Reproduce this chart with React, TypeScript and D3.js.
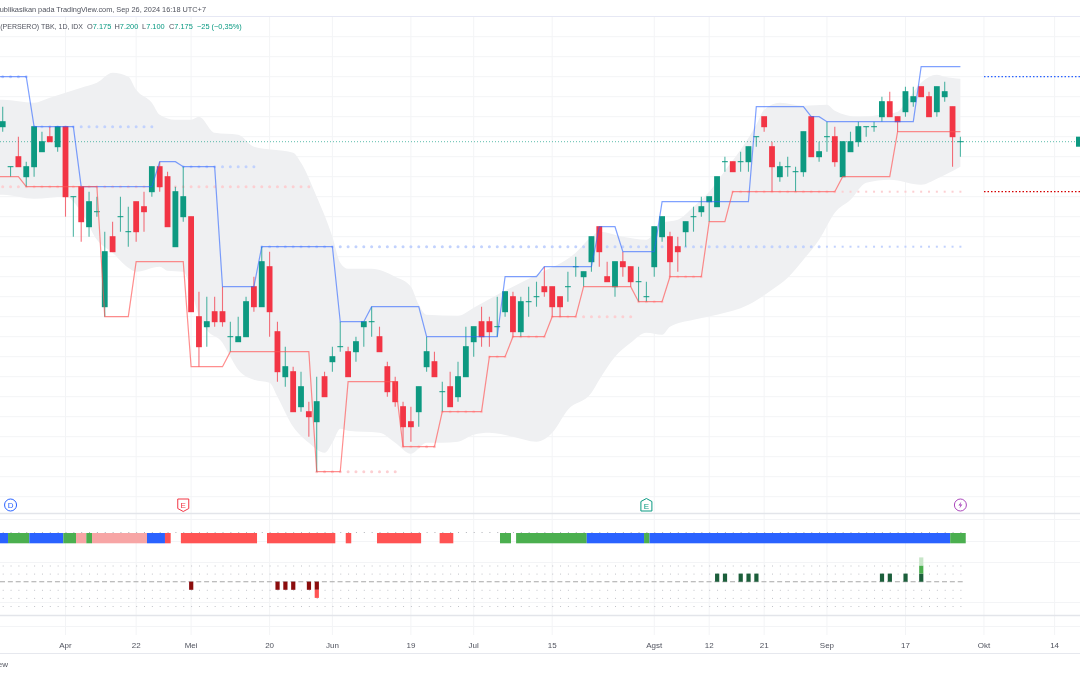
import React from 'react';
import * as d3 from 'd3';

const opens = [
  7250, 7050, 7100, 7000, 7050, 7125, 7200, 7150, 7250, 6900, 6950, 6750, 6825, 6350, 6700, 6800, 6725, 6875, 6850, 6925,
  7050, 7000, 6650, 6800, 6800, 6300, 6250, 6325, 6325, 6200, 6175, 6200, 6450, 6350, 6550, 6225, 6000, 6025, 5850, 5825,
  5775, 6000, 6075, 6150, 6125, 6125, 6250, 6275, 6200, 6050, 5975, 5850, 5775, 5825, 6050, 6075, 5925, 5950, 5900, 6000,
  6175, 6275, 6275, 6250, 6325, 6400, 6225, 6375, 6400, 6450, 6450, 6400, 6450, 6550, 6500, 6575, 6750, 6500, 6450, 6575,
  6550, 6475, 6400, 6550, 6700, 6700, 6650, 6725, 6800, 6825, 6875, 6850, 7075, 7075, 7075, 7075, 7200, 7300, 7150, 7000,
  7050, 7025, 7025, 7300, 7100, 7200, 7200, 7000, 7125, 7175, 7250, 7250, 7300, 7375, 7300, 7325, 7375, 7450, 7400, 7325,
  7400, 7350, 7175,
];
const highs = [
  7350, 7050, 7200, 7075, 7250, 7225, 7250, 7250, 7250, 6900, 6950, 6925, 6900, 6725, 6775, 6900, 6850, 6875, 6925, 7050,
  7075, 7025, 6950, 7050, 6800, 6425, 6400, 6400, 6450, 6275, 6300, 6400, 6500, 6650, 6625, 6275, 6150, 6050, 6025, 5875,
  6000, 6025, 6150, 6275, 6150, 6200, 6275, 6350, 6250, 6075, 6000, 5875, 5850, 5950, 6200, 6125, 5975, 6025, 6075, 6250,
  6250, 6350, 6300, 6400, 6425, 6425, 6400, 6450, 6475, 6550, 6450, 6400, 6525, 6600, 6525, 6700, 6750, 6575, 6575, 6625,
  6550, 6550, 6475, 6750, 6800, 6725, 6700, 6775, 6850, 6900, 6900, 7000, 7100, 7075, 7125, 7150, 7200, 7300, 7175, 7075,
  7100, 7050, 7225, 7300, 7175, 7275, 7250, 7175, 7225, 7275, 7250, 7275, 7400, 7425, 7300, 7450, 7450, 7450, 7425, 7450,
  7475, 7350, 7200,
];
const lows = [
  7225, 7000, 7050, 6950, 7000, 7125, 7175, 7125, 6800, 6700, 6675, 6700, 6800, 6300, 6625, 6725, 6650, 6675, 6725, 6900,
  6925, 6750, 6650, 6775, 6325, 6050, 6150, 6250, 6250, 6125, 6175, 6200, 6325, 6350, 6200, 5975, 5950, 5825, 5825, 5700,
  5525, 5900, 6025, 6125, 6000, 6075, 6150, 6200, 6125, 5900, 5850, 5650, 5675, 5750, 6025, 6000, 5825, 5850, 5875, 6000,
  6100, 6150, 6150, 6200, 6300, 6200, 6200, 6300, 6350, 6400, 6300, 6300, 6375, 6500, 6450, 6525, 6550, 6475, 6400, 6500,
  6450, 6375, 6375, 6500, 6675, 6500, 6525, 6650, 6725, 6800, 6775, 6850, 7025, 7025, 7025, 7025, 7150, 7225, 6925, 6975,
  7000, 6925, 7000, 7100, 7075, 7125, 7050, 7000, 7125, 7150, 7200, 7225, 7275, 7300, 7225, 7300, 7350, 7400, 7300, 7300,
  7375, 7050, 7100,
];
const closes = [
  7275, 7050, 7050, 7050, 7250, 7175, 7175, 7250, 6900, 6900, 6775, 6875, 6825, 6625, 6625, 6800, 6725, 6725, 6825, 7050,
  6950, 6750, 6925, 6900, 6325, 6150, 6275, 6275, 6275, 6200, 6200, 6375, 6350, 6575, 6325, 6025, 6050, 5825, 5950, 5800,
  5875, 5900, 6100, 6150, 6000, 6175, 6275, 6275, 6125, 5925, 5875, 5750, 5750, 5950, 6125, 6000, 5925, 5850, 6000, 6150,
  6250, 6200, 6225, 6250, 6425, 6225, 6375, 6375, 6400, 6425, 6350, 6350, 6450, 6550, 6525, 6700, 6625, 6475, 6575, 6550,
  6475, 6475, 6400, 6750, 6800, 6575, 6625, 6775, 6800, 6850, 6900, 7000, 7075, 7025, 7075, 7150, 7200, 7250, 7050, 7050,
  7050, 7025, 7225, 7100, 7125, 7200, 7075, 7175, 7175, 7250, 7250, 7250, 7375, 7300, 7275, 7425, 7400, 7400, 7300, 7450,
  7425, 7200, 7175,
];
const days = opens.map((_, i) => i);
const lastClose = 7175;

// grey channel around the candles
const cloudUpperDays = [-1, 0, 4, 6, 8, 10, 12, 14, 16, 17, 19, 20, 22, 24, 25, 27, 30, 32, 37, 38, 40, 42, 43, 44, 47, 50, 52, 53, 54, 58, 60, 63, 68, 73, 75, 76, 79, 82, 84, 86, 88, 90, 92, 94, 96, 97, 99, 102, 105, 106, 109, 112, 114, 115, 117, 119, 120, 122];
const cloudUpper = [7385, 7385, 7370, 7395, 7420, 7445, 7470, 7520, 7500, 7435, 7370, 7310, 7285, 7285, 7300, 7220, 7210, 7150, 7120, 7070, 6900, 6700, 6570, 6540, 6540, 6500, 6450, 6360, 6310, 6305, 6345, 6410, 6510, 6620, 6700, 6725, 6700, 6685, 6770, 6785, 6850, 6925, 7030, 7135, 7260, 7335, 7370, 7355, 7360, 7330, 7300, 7310, 7325, 7370, 7470, 7510, 7500, 7490];
const cloudLowerDays = [-1, 0, 4, 8, 10, 12, 14, 16, 17, 20, 21, 23, 24, 25, 26, 28, 29, 30, 32, 34, 35, 37, 39, 41, 42, 43, 44, 48, 50, 52, 54, 56, 58, 60, 62, 65, 68, 70, 72, 75, 76, 78, 80, 82, 84, 85, 88, 91, 95, 98, 100, 102, 104, 106, 108, 110, 113, 117, 119, 122];
const cloudLower = [6910, 6910, 6890, 6900, 6825, 6685, 6620, 6545, 6525, 6550, 6530, 6525, 6435, 6305, 6235, 6170, 6100, 6035, 5985, 5970, 5900, 5750, 5670, 5620, 5670, 5740, 5730, 5720, 5670, 5615, 5670, 5670, 5675, 5710, 5720, 5700, 5675, 5720, 5835, 5920, 5985, 6100, 6170, 6220, 6210, 6250, 6285, 6310, 6360, 6435, 6495, 6585, 6685, 6820, 6885, 6970, 6985, 6960, 6990, 7050];

// stepped highest / lowest lines
const bluePenDays = [-1, 3, 4, 9, 10, 19, 20, 22, 23, 27, 28, 32, 33, 42, 43, 46, 47, 53, 54, 63, 64, 68, 69, 75, 76, 78, 79, 83, 84, 95, 96, 102, 103, 104, 105, 116, 117, 122];
const bluePen = [7500, 7500, 7250, 7250, 6950, 6950, 7075, 7075, 7050, 7050, 6450, 6450, 6650, 6650, 6275, 6275, 6350, 6350, 6200, 6200, 6500, 6500, 6550, 6550, 6750, 6750, 6625, 6625, 6875, 6875, 7350, 7350, 7300, 7300, 7275, 7275, 7550, 7550];
const redPenDays = [-1, 2, 3, 12, 13, 16, 17, 23, 24, 28, 29, 39, 40, 43, 44, 50, 51, 55, 56, 61, 62, 64, 65, 69, 70, 73, 74, 80, 81, 84, 85, 89, 90, 92, 93, 106, 107, 113, 114, 122];
const redPen = [7000, 7000, 6950, 6950, 6300, 6300, 6575, 6575, 6050, 6050, 6125, 6125, 5525, 5525, 5975, 5975, 5650, 5650, 5825, 5825, 6100, 6100, 6200, 6200, 6300, 6300, 6450, 6450, 6375, 6375, 6500, 6500, 6775, 6775, 6925, 6925, 7000, 7000, 7225, 7225];

// pale dotted levels: from day, to day, price
const blueDotFrom = [0, 4, 23, 33];
const blueDotTo = [3, 19, 32, 104];
const blueDotPrice = [7500, 7250, 7050, 6650];
const redDotFrom = [0, 40, 51, 56, 62, 65, 70, 81, 85, 93];
const redDotTo = [39, 50, 55, 61, 64, 69, 80, 84, 89, 106];
const redDotPrice = [6950, 5525, 5650, 5825, 6100, 6200, 6300, 6375, 6500, 6925];
const smallDotFrom = [105, 107];
const smallDotTo = [122, 122];
const smallDotPrice = [6650, 6925];
const smallDotKind = ['blue', 'red'];

// dotted levels in the empty area on the right
const futureLevels = [7500, 6925];

// state strip, in fractional days
const stripFrom = [-1, 0.68, 3.39, 7.72, 9.34, 10.65, 11.38, 18.38, 20.67, 22.7, 33.67, 43.7, 47.68, 55.66, 63.35, 65.4, 74.4, 81.7, 82.4, 120.7];
const stripTo = [0.68, 3.39, 7.72, 9.34, 10.65, 11.38, 18.38, 20.67, 21.4, 32.4, 42.37, 44.4, 53.3, 57.4, 64.75, 74.4, 81.7, 82.4, 120.7, 122.68];
const stripState = ['blue', 'green', 'blue', 'green', 'pink', 'green', 'pink', 'blue', 'red', 'red', 'red', 'red', 'red', 'red', 'green', 'green', 'blue', 'green', 'blue', 'green'];

// histogram, value in units of one block
const histDays = [24, 35, 36, 37, 39, 40, 91, 92, 94, 95, 96, 112, 113, 115, 117];
const histValues = [-1, -1, -1, -1, -1, -2, 1, 1, 1, 1, 1, 1, 1, 1, 3];
const histDotRows = [2, 1, -1, -2, -3];

const tickDays = [8, 17, 24, 34, 42, 52, 60, 70, 83, 90, 97, 105, 115, 125, 134];
const tickLabels = ['Apr', '22', 'Mei', '20', 'Jun', '19', 'Jul', '15', 'Agst', '12', '21', 'Sep', '17', 'Okt', '14'];
const priceGrid = d3.range(5400, 7800, 100);
const lowerGrid = [519, 541, 562, 602, 626];

const GREEN = '#089981';
const RED = '#f23645';
const BLUE = '#2962ff';
const GRID = '#f3f4f6';
const FONT = '"Liberation Sans", Arial, sans-serif';
const stripColors: Record<string, string> = { blue: '#2962ff', green: '#4caf50', pink: '#f7a5a5', red: '#ff5252' };
const histColorsUp = ['#1b5e3b', '#4caf50', '#c8e6c9'];
const histColorsDown = ['#8b0a10', '#ff5252'];

const x = d3.scaleLinear().domain([0, 122]).range([2.7, 960.4]);
const y = d3.scaleLinear().domain([7200, 6200]).range([136.7, 336.7]);
const yHist = d3.scaleLinear().domain([0, 1]).range([581.7, 573.6]);

const cloudTop = d3.line<number>().x((d) => x(d)).y((_, i) => y(cloudUpper[i])).curve(d3.curveMonotoneX);
const cloudArea = (() => {
  const up = cloudTop(cloudUpperDays) as string;
  const down = d3.line<number>().x((d) => x(d)).y((d) => y(cloudLower[cloudLowerDays.indexOf(d)])).curve(d3.curveMonotoneX)(
    [...cloudLowerDays].reverse(),
  ) as string;
  return `${up}L${down.slice(1)}Z`;
})();
const penLine = (vals: number[]) =>
  d3.line<number>().x((d) => x(d)).y((_, i) => y(vals[i]));

function Dots({ from, to, price, color, r }: { from: number[]; to: number[]; price: number[]; color: string; r: number }) {
  return (
    <g fill={color}>
      {from.flatMap((f, k) =>
        d3.range(f, to[k] + 1).map((d) => <circle key={`${k}-${d}`} cx={x(d)} cy={y(price[k])} r={r} />),
      )}
    </g>
  );
}

export default function App() {
  const bw = (x(1) - x(0)) * 0.74;
  return (
    <svg width={1080} height={675} style={{ position: 'absolute', left: 0, top: 0, background: '#fff' }} fontFamily={FONT}>
      <defs>
        <filter id="soft" x="0" y="0" width="100%" height="100%">
          <feGaussianBlur stdDeviation="0.35" />
        </filter>
      </defs>
      <g filter="url(#soft)">
        <rect width={1080} height={675} fill="#fff" />
        {/* grid */}
        {priceGrid.map((p) => (
          <line key={p} x1={0} x2={1080} y1={y(p)} y2={y(p)} stroke={GRID} />
        ))}
        {lowerGrid.map((g) => (
          <line key={g} x1={0} x2={1080} y1={g + 0.5} y2={g + 0.5} stroke={GRID} />
        ))}
        {tickDays.map((d) => (
          <line key={d} x1={x(d)} x2={x(d)} y1={16} y2={635} stroke={GRID} />
        ))}
        <line x1={0} x2={1080} y1={16.5} y2={16.5} stroke="#e6e8f4" />
        <line x1={0} x2={1080} y1={513.5} y2={513.5} stroke="#e3e5ea" strokeWidth={1.5} />
        <line x1={0} x2={1080} y1={615.5} y2={615.5} stroke="#e3e5ea" strokeWidth={1.5} />
        <line x1={0} x2={1080} y1={653.5} y2={653.5} stroke="#e6e8ee" />

        {/* header */}
        <text x={206} y={12} textAnchor="end" fontSize={7.35} fill="#50535e">
          dipublikasikan pada TradingView.com, Sep 26, 2024 16:18 UTC+7
        </text>
        <text x={83} y={28.5} textAnchor="end" fontSize={7} fill="#50535e">
          BANK MANDIRI (PERSERO) TBK, 1D, IDX
        </text>
        <text y={28.5} fontSize={7.4} fill={GREEN}>
          {[['O', '7.175', 87], ['H', '7.200', 114.5], ['L', '7.100', 142], ['C', '7.175', 169]].map(([k, v, px]) => (
            <tspan key={k as string} x={px as number}>
              <tspan fill="#50535e">{k}</tspan>
              {v}
            </tspan>
          ))}
          <tspan x={197}>−25 (−0,35%)</tspan>
        </text>

        {/* channel */}
        <path d={cloudArea} fill="#eff0f2" />
        <Dots from={blueDotFrom} to={blueDotTo} price={blueDotPrice} color="#c2d2fd" r={1.5} />
        <Dots from={redDotFrom} to={redDotTo} price={redDotPrice} color="#fccfd2" r={1.5} />
        {smallDotFrom.flatMap((f, k) =>
          d3.range(f, smallDotTo[k] + 1).map((d) => (
            <rect
              key={`${k}-${d}`}
              x={x(d) - 1}
              y={y(smallDotPrice[k]) - 1}
              width={2}
              height={2}
              fill={smallDotKind[k] === 'blue' ? '#c2d2fd' : '#fccfd2'}
            />
          )),
        )}
        <line x1={0} x2={1080} y1={y(lastClose)} y2={y(lastClose)} stroke={GREEN} strokeDasharray="1 2" opacity={0.65} />

        {/* candles */}
        {days.map((d) => {
          const up = closes[d] >= opens[d];
          const c = up ? GREEN : RED;
          const top = y(Math.max(opens[d], closes[d]));
          const bottom = y(Math.min(opens[d], closes[d]));
          return (
            <g key={d}>
              <line x1={x(d)} x2={x(d)} y1={y(highs[d])} y2={y(lows[d])} stroke={c} strokeWidth={1.1} opacity={0.7} />
              <rect x={x(d) - bw / 2} y={top - 0.5} width={bw} height={Math.max(1, bottom - top + 1)} fill={c} />
            </g>
          );
        })}

        {/* stepped lines */}
        <path d={penLine(bluePen)(bluePenDays) as string} fill="none" stroke={BLUE} strokeOpacity={0.6} strokeWidth={1.2} />
        <path d={penLine(redPen)(redPenDays) as string} fill="none" stroke="#ff5252" strokeOpacity={0.65} strokeWidth={1.2} />

        {/* right side levels */}
        {futureLevels.map((p, i) => (
          <line key={p} x1={984} x2={1080} y1={y(p)} y2={y(p)} stroke={i === 0 ? BLUE : '#d50000'} strokeWidth={1.3} strokeDasharray="1.5 2" />
        ))}
        <rect x={1076} y={y(lastClose) - 5} width={6} height={10} fill={GREEN} />

        {/* event markers */}
        <g transform={`translate(${x(1)},505)`}>
          <circle r={6} fill="#fff" stroke={BLUE} />
          <text y={3} textAnchor="middle" fontSize={8} fill={BLUE}>D</text>
        </g>
        <g transform={`translate(${x(23)},505)`}>
          <path d="M-5.5,-6H5.5V3.5L0,6.5L-5.5,3.5Z" fill="#fff" stroke={RED} />
          <text y={3} textAnchor="middle" fontSize={8} fill={RED}>E</text>
        </g>
        <g transform={`translate(${x(82)},505)`}>
          <path d="M-5.5,6H5.5V-3.5L0,-6.5L-5.5,-3.5Z" fill="#fff" stroke={GREEN} />
          <text y={3.5} textAnchor="middle" fontSize={8} fill={GREEN}>E</text>
        </g>
        <g transform={`translate(${x(122)},505)`}>
          <circle r={6} fill="#fff" stroke="#ab47bc" />
          <path d="M1,-3.5L-2,0.5H0L-1,3.5L2,-0.5H0Z" fill="#ab47bc" />
        </g>

        {/* state strip */}
        {stripFrom.map((f, i) => (
          <rect key={i} x={x(f)} y={533} width={x(stripTo[i]) - x(f)} height={10.3} fill={stripColors[stripState[i]]} />
        ))}
        {days.map((d) => (
          <rect key={d} x={x(d)} y={532} width={1} height={1} fill="#b0b2b8" />
        ))}

        {/* histogram */}
        {histDotRows.flatMap((v) =>
          days.map((d) => <rect key={`${v}-${d}`} x={x(d)} y={yHist(v)} width={1} height={1} fill="#c0c2c8" />),
        )}
        <line x1={0} x2={964} y1={581.7} y2={581.7} stroke="#a8a8a8" strokeWidth={1.1} strokeDasharray="5 2.85" />
        {histDays.flatMap((d, i) => {
          const v = histValues[i];
          const colors = v > 0 ? histColorsUp : histColorsDown;
          return d3.range(0, Math.abs(v)).map((k) => {
            const sign = v > 0 ? 1 : -1;
            const a = yHist(k * sign);
            const b = yHist((k + 1) * sign);
            return (
              <rect
                key={`${d}-${k}`}
                x={x(d) - 2}
                y={Math.min(a, b)}
                width={4.2}
                height={Math.abs(a - b)}
                fill={colors[k]}
              />
            );
          });
        })}

        {/* time axis */}
        {tickDays.map((d, i) => (
          <text key={d} x={x(d)} y={648} textAnchor="middle" fontSize={8} fill="#50535e">
            {tickLabels[i]}
          </text>
        ))}
        <text x={8} y={667} textAnchor="end" fontSize={8} fill="#50535e">
          TradingView
        </text>
      </g>
    </svg>
  );
}
